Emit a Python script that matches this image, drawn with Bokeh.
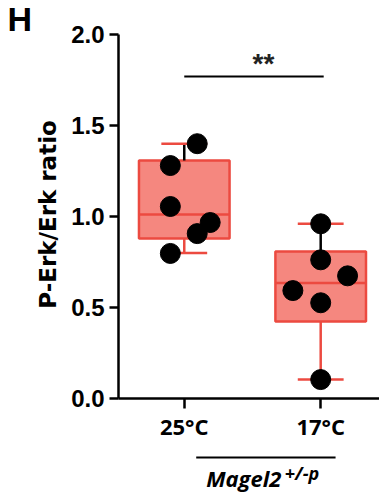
from bokeh.plotting import figure
from bokeh.layouts import column, row
from bokeh.models import Range1d, FixedTicker, NumeralTickFormatter, Spacer
from bokeh.core.properties import value
from bokeh.embed import file_html
from bokeh.resources import INLINE

# ---- data ----
groups = ["25°C", "17°C"]
group_x = [1, 2]
g1_values = [1.40, 1.28, 1.055, 0.967, 0.906, 0.797]
g2_values = [0.96, 0.762, 0.674, 0.593, 0.526, 0.104]
g1_jitter = [0.095, -0.102, -0.102, 0.19, 0.095, -0.102]
g2_jitter = [0.0, 0.0, 0.197, -0.204, 0.0, 0.0]
q1 = [0.879, 0.423]
median = [1.011, 0.634]
q3 = [1.308, 0.808]
whisker_low = [0.80, 0.104]
whisker_high = [1.40, 0.96]
y_ticks = [0.0, 0.5, 1.0, 1.5, 2.0]
sig_text = "**"
panel_letter = "H"
genotype = "Magel2"
genotype_sup = "+/-p"

RED = "#EC4A40"
FILL = "#F5877F"

LEFT_W = 32
MAIN_W = 379 - LEFT_W
BORDER_L = 117 - LEFT_W


def bare(fig):
    fig.outline_line_color = None
    fig.xgrid.visible = False
    fig.ygrid.visible = False
    fig.background_fill_color = "white"
    fig.border_fill_color = "white"


xr = Range1d(0.518, 2.431)
p = figure(width=MAIN_W, height=450, output_backend="svg", toolbar_location=None, title=None,
           x_range=xr, y_range=Range1d(0, 2.022),
           min_border_left=BORDER_L, min_border_right=0, min_border_top=30, min_border_bottom=52)
bare(p)

p.yaxis.bounds = (0, 2)
p.yaxis.ticker = FixedTicker(ticks=y_ticks)
p.yaxis.formatter = NumeralTickFormatter(format="0.0")
p.yaxis.minor_tick_line_color = None
p.yaxis.major_tick_in = 0
p.yaxis.major_tick_out = 9
p.yaxis.axis_line_width = 2.5
p.yaxis.major_tick_line_width = 2.5
p.yaxis.major_label_text_font = "Liberation Sans"
p.yaxis.major_label_text_font_style = "bold"
p.yaxis.major_label_text_font_size = "24px"
p.yaxis.major_label_text_color = "black"
p.yaxis.major_label_standoff = 5
p.yaxis.axis_label = "P-Erk/Erk ratio"
p.yaxis.axis_label_text_font = "DejaVu Sans"
p.yaxis.axis_label_text_font_style = "bold"
p.yaxis.axis_label_text_font_size = "23px"
p.yaxis.axis_label_text_color = "black"
p.yaxis.axis_label_standoff = 7

p.xaxis.ticker = FixedTicker(ticks=group_x)
p.xaxis.major_label_overrides = {gx: g for gx, g in zip(group_x, groups)}
p.xaxis.minor_tick_line_color = None
p.xaxis.major_tick_in = 0
p.xaxis.major_tick_out = 10
p.xaxis.axis_line_width = 2.5
p.xaxis.major_tick_line_width = 2.5
p.xaxis.major_label_text_font = "Open Sans"
p.xaxis.major_label_text_font_style = "bold"
p.xaxis.major_label_text_font_size = "22px"
p.xaxis.major_label_text_color = "black"
p.xaxis.major_label_standoff = 2

box_w = 0.664
cap_w = 0.336

# boxes
p.quad(left=[x - box_w / 2 for x in group_x], right=[x + box_w / 2 for x in group_x],
       bottom=q1, top=q3, fill_color=FILL, line_color=RED, line_width=2.5)
# medians
p.segment(x0=[x - box_w / 2 for x in group_x], x1=[x + box_w / 2 for x in group_x],
          y0=median, y1=median, line_color=RED, line_width=2.5)
# lower whiskers (red) and upper whiskers (black)
p.segment(x0=group_x, x1=group_x, y0=whisker_low, y1=q1, line_color=RED, line_width=2.5)
p.segment(x0=group_x, x1=group_x, y0=q3, y1=whisker_high, line_color="black", line_width=2.5)
# caps
for w in (whisker_low, whisker_high):
    p.segment(x0=[x - cap_w / 2 for x in group_x], x1=[x + cap_w / 2 for x in group_x],
              y0=w, y1=w, line_color=RED, line_width=2.5)

# points
px = [group_x[0] + j for j in g1_jitter] + [group_x[1] + j for j in g2_jitter]
py = g1_values + g2_values
p.scatter(px, py, size=20, fill_color="black", line_color="black")

# significance bar
p.segment(x0=[1.0], x1=[2.022], y0=[1.769], y1=[1.769], line_color="black", line_width=2)
p.text(x=[1.58], y=[1.839], text=[sig_text], text_font=value("Liberation Sans"),
       text_font_size="28px", text_font_style="bold", text_align="center",
       text_baseline="alphabetic", text_color="#222222")

# genotype strip below
g = figure(width=MAIN_W, height=45, output_backend="svg", toolbar_location=None, title=None,
           x_range=xr, y_range=Range1d(0, 45),
           min_border_left=BORDER_L, min_border_right=0, min_border_top=0, min_border_bottom=0,
           x_axis_location=None, y_axis_location=None)
bare(g)
g.segment(x0=[1.0876], x1=[2.109], y0=[38], y1=[38], line_color="black", line_width=2)
g.text(x=[1.1606], y=[18.0], text=[genotype], text_font=value("Open Sans"),
       text_font_style="bold italic", text_font_size="22px", text_align="left",
       text_baseline="alphabetic", text_color="black")
g.text(x=[1.737], y=[23.0], text=[genotype_sup], text_font=value("Open Sans"),
       text_font_style="bold italic", text_font_size="18px", text_align="left",
       text_baseline="alphabetic", text_color="black")

# panel letter at the top-left
h = figure(width=LEFT_W, height=40, output_backend="svg", toolbar_location=None, title=None,
           x_range=Range1d(0, LEFT_W), y_range=Range1d(0, 40),
           min_border_left=0, min_border_right=0, min_border_top=0, min_border_bottom=0,
           x_axis_location=None, y_axis_location=None)
bare(h)
h.text(x=[7], y=[21.3], text=[panel_letter], text_font=value("Liberation Sans"),
       text_font_style="bold", text_font_size="34px", text_align="left",
       text_baseline="alphabetic", text_color="black")

layout = row(column(h, Spacer(width=LEFT_W, height=455), spacing=0),
             column(p, g, spacing=0), spacing=0)
open("out.html", "w").write(file_html(layout, INLINE))
